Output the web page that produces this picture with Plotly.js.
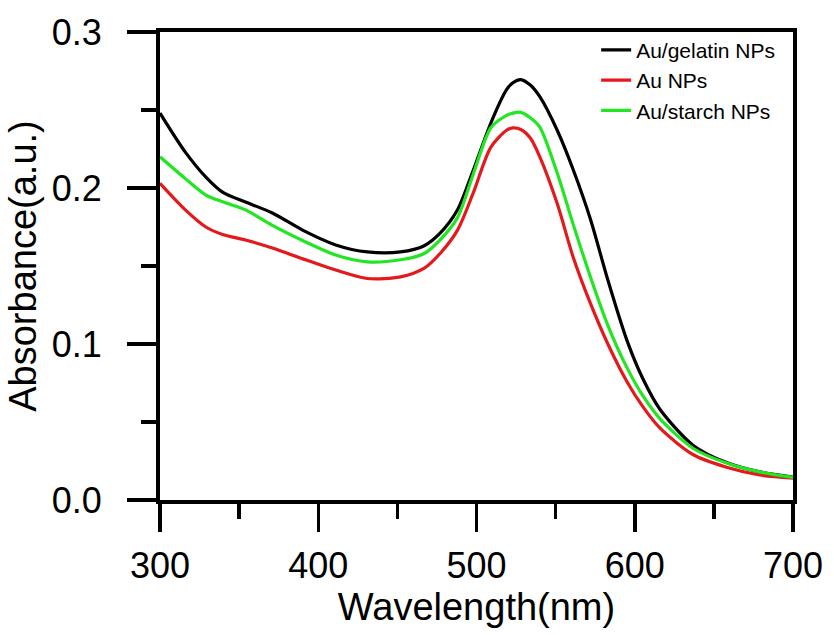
<!DOCTYPE html>
<html>
<head>
<meta charset="utf-8">
<script src="https://cdn.plot.ly/plotly-3.0.1.min.js"></script>
<style>html,body{margin:0;padding:0;background:#fff;}#chart{width:834px;height:635px;}</style>
</head>
<body>
<div id="chart"></div>
<script>
const wavelength = [300,316,329,340,354,371,392,411,431,452,467,477,488,498,509,519,523,528,534,540,551,561,572,583,595,605,616,637,658,679,700];
const auGelatin = [0.248,0.223,0.207,0.197,0.191,0.184,0.172,0.1635,0.159,0.159,0.163,0.171,0.186,0.2115,0.2415,0.263,0.2675,0.2695,0.266,0.2585,0.237,0.212,0.180,0.141,0.1025,0.078,0.058,0.035,0.024,0.018,0.0147];
const auNPs = [0.203,0.186,0.175,0.170,0.1667,0.1615,0.154,0.1474,0.142,0.143,0.1486,0.158,0.173,0.197,0.226,0.237,0.2385,0.2375,0.232,0.220,0.190,0.156,0.126,0.100,0.076,0.060,0.046,0.029,0.021,0.016,0.014];
const auStarch = [0.220,0.206,0.1955,0.191,0.186,0.176,0.1654,0.157,0.1526,0.154,0.158,0.1667,0.181,0.209,0.2385,0.2465,0.248,0.2485,0.245,0.239,0.2096,0.177,0.143,0.112,0.085,0.067,0.052,0.033,0.0237,0.018,0.0145];
const seriesNames = ['Au/gelatin NPs','Au NPs','Au/starch NPs'];
const seriesColors = ['#000000','#e3191c','#22e622'];
const xTicks = [300,400,500,600,700];
const yTicks = [0.0,0.1,0.2,0.3];

const ys = [auGelatin, auNPs, auStarch];
const traces = ys.map((y,i)=>({
  x: wavelength, y: y, name: seriesNames[i], type:'scatter', mode:'lines',
  line:{color:seriesColors[i], width:3.2, shape:'spline', smoothing:0.8}
}));
const font = "Liberation Sans, Arial, sans-serif";
const layout = {
  width:834, height:635,
  margin:{l:160,r:41,t:32,b:135},
  paper_bgcolor:'#fff', plot_bgcolor:'#fff',
  font:{family:font, color:'#000'},
  showlegend:true,
  legend:{x:0.689, y:1.005, xanchor:'left', yanchor:'top', bgcolor:'rgba(0,0,0,0)', font:{size:21, family:font}, tracegroupgap:0, itemwidth:30},
  xaxis:{
    range:[300,700], tickvals:xTicks, ticktext:xTicks.map(String),
    ticks:'outside', ticklen:28, tickwidth:3.5, tickcolor:'#000',
    showline:true, linewidth:4, linecolor:'#000', mirror:true,
    showgrid:false, zeroline:false,
    tickfont:{size:36, family:font}, ticklabelstandoff:3,
    minor:{dtick:50, tick0:300, ticks:'outside', ticklen:15, tickwidth:3.5, tickcolor:'#000', showgrid:false},
    title:{text:'Wavelength(nm)', font:{size:38, family:font}, standoff:0}
  },
  yaxis:{
    range:[0,0.3], tickvals:yTicks, ticktext:yTicks.map(v=>v.toFixed(1)),
    ticks:'outside', ticklen:29, tickwidth:3.5, tickcolor:'#000',
    showline:true, linewidth:4, linecolor:'#000', mirror:true,
    showgrid:false, zeroline:false,
    tickfont:{size:36, family:font}, ticklabelstandoff:18,
    minor:{dtick:0.05, tick0:0, ticks:'outside', ticklen:15, tickwidth:3.5, tickcolor:'#000', showgrid:false},
    title:{text:'Absorbance(a.u.)', font:{size:38, family:font}, standoff:4}
  }
};
Plotly.newPlot('chart', traces, layout, {displayModeBar:false, staticPlot:true});
</script>
</body>
</html>
